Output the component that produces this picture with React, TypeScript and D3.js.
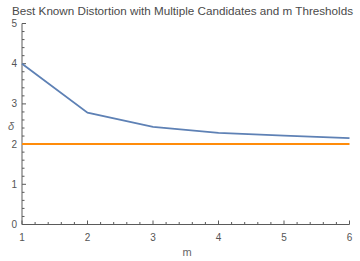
import * as React from 'react'
import * as d3 from 'd3'

const mValues = [1, 2, 3, 4, 5, 6]
const bestKnown = [4, 2.78, 2.43, 2.28, 2.21, 2.15]
const threshold = [2, 2, 2, 2, 2, 2]
const yTicks = [0, 1, 2, 3, 4, 5]

const App = () => {
    const width = 360
    const height = 261
    const x = d3.scaleLinear().domain([1, 6]).range([22, 349.5])
    const y = d3.scaleLinear().domain([0, 5]).range([224.5, 23.5])

    const line = d3.line<number>()
      .x((d, i) => x(mValues[i]))
      .y(d => y(d))

    const xMinor = d3.range(1, 6.001, 0.2)
    const yMinor = d3.range(0, 5.001, 0.2)
    const axisColor = '#5a5a5a'
    const font = 'Liberation Sans, Arial, sans-serif'

    return (
        <svg width={width} height={height} style={{position: 'absolute', left: 0, top: 0}}>
            <text x={12} y={15} fontFamily={font} fontSize={11.6} fill="#4a4a4a" textLength={341} lengthAdjust="spacingAndGlyphs">
                Best Known Distortion with Multiple Candidates and m Thresholds
            </text>
            {/* axes */}
            <line x1={x(1)} x2={x(1)} y1={y(0)} y2={y(5)} stroke={axisColor} strokeWidth={1} />
            <line x1={x(1)} x2={x(6)} y1={y(0)} y2={y(0)} stroke={axisColor} strokeWidth={1} />
            {yMinor.map((v, i) => {
                const major = Math.abs(v - Math.round(v)) < 1e-6
                return <line key={'ym' + i} x1={x(1)} x2={x(1) + (major ? 4 : 2.5)} y1={y(v)} y2={y(v)} stroke={axisColor} strokeWidth={1} />
            })}
            {xMinor.map((v, i) => {
                const major = Math.abs(v - Math.round(v)) < 1e-6
                return <line key={'xm' + i} x1={x(v)} x2={x(v)} y1={y(0)} y2={y(0) - (major ? 4 : 2.5)} stroke={axisColor} strokeWidth={1} />
            })}
            {yTicks.map(t => (
                <text key={'yt' + t} x={17} y={y(t) + 3.5} textAnchor="end" fontFamily={font} fontSize={10} fill="#555">{t}</text>
            ))}
            {mValues.map(t => (
                <text key={'xt' + t} x={x(t)} y={241} textAnchor="middle" fontFamily={font} fontSize={10} fill="#555">{t}</text>
            ))}
            <text x={11} y={130} textAnchor="middle" fontFamily={font} fontSize={11} fontStyle="italic" fill="#666">δ</text>
            <text x={187} y={256} textAnchor="middle" fontFamily={font} fontSize={11} fill="#666">m</text>
            {/* series */}
            <path d={line(threshold) || ''} fill="none" stroke="#ff8c0a" strokeWidth={2} />
            <path d={line(bestKnown) || ''} fill="none" stroke="#5e81b5" strokeWidth={1.8} />
        </svg>
    )
}

export default App
